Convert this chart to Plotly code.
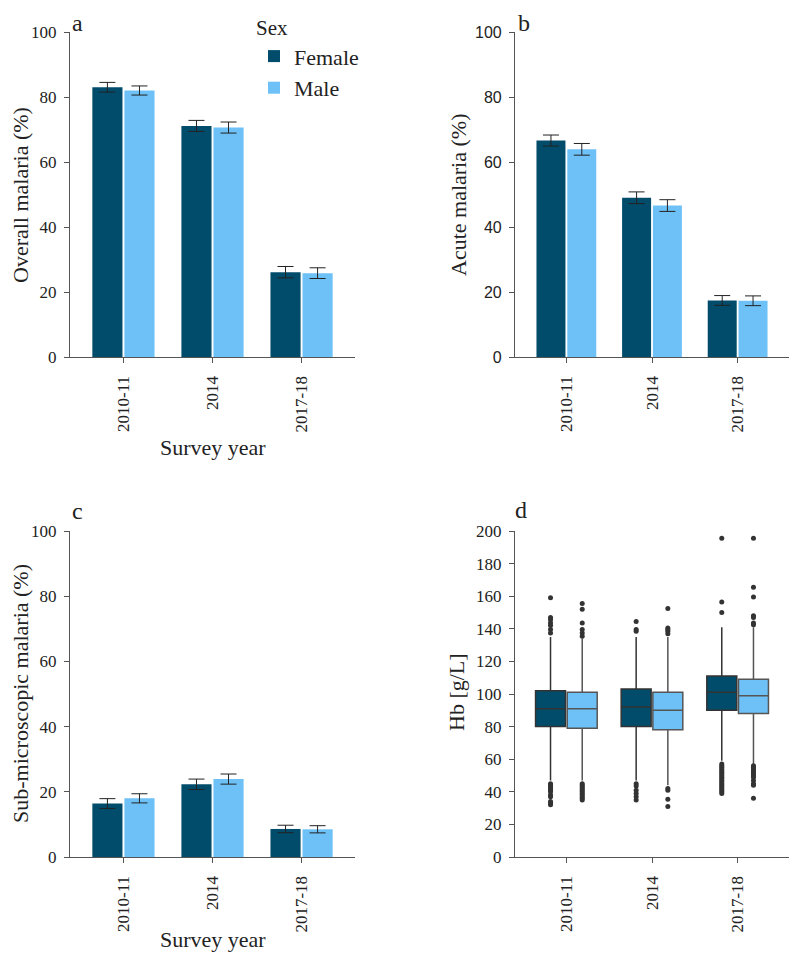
import plotly.graph_objects as go

years = ["2010-11", "2014", "2017-18"]

overall_f = [83.0, 71.1, 26.1]
overall_m = [82.0, 70.6, 25.8]
overall_f_err = [1.5, 1.7, 1.75]
overall_m_err = [1.4, 1.7, 1.65]

acute_f = [66.6, 49.0, 17.4]
acute_m = [63.9, 46.6, 17.3]
acute_f_err = [1.7, 1.8, 1.5]
acute_m_err = [1.8, 1.8, 1.5]

sub_f = [16.4, 22.3, 8.6]
sub_m = [18.0, 23.9, 8.5]
sub_f_err = [1.5, 1.6, 1.15]
sub_m_err = [1.4, 1.55, 1.1]

hb_f_q1 = [80, 80, 90]
hb_f_med = [91, 92, 101]
hb_f_q3 = [102, 103, 111]
hb_f_lo = [47, 47, 59]
hb_f_hi = [135, 135, 141]

hb_m_q1 = [79, 78, 88]
hb_m_med = [91, 90, 99]
hb_m_q3 = [101, 101, 109]
hb_m_lo = [47, 44, 57]
hb_m_hi = [134, 135, 141]

hb_f_out = [
    [159, 147, 145.5, 143.5, 142, 139.5, 137.5, 45, 44, 43, 42, 41, 40, 38, 37, 34, 33, 32],
    [144.5, 139.5, 138.5, 45, 43.5, 41, 39, 37, 35],
    [195.5, 156.5, 150, 57, 56, 55, 54, 53, 52, 51, 50, 49, 48, 47, 46, 45, 44, 43, 42, 41, 40, 39],
]
hb_m_out = [
    [155.5, 152, 143.5, 139.5, 137.5, 135.5, 45, 44, 43, 42, 41, 40, 39, 38, 37, 36, 35],
    [152.5, 140.5, 139.5, 138.5, 137, 42, 41, 35.5, 31],
    [195.5, 165.5, 159.5, 148, 147, 143.5, 142.5, 56, 55, 54, 53, 52, 51, 50, 49, 47, 45, 44, 36],
]

DARK = "#024c6b"
LIGHT = "#6ec1f6"
SERIF = "Liberation Serif"
SANS = "Liberation Sans"
AX = "#555555"

# page is rendered with an 8px body margin; size the figure to fit the window
PAGE_W, PAGE_H = 797, 961
M = 8
W, H = PAGE_W - 2 * M, PAGE_H - 2 * M

def px(x):
    return min(max((x - M) / W, 0.0), 1.0)

def py(y):
    return min(max(1 - (y - M) / H, 0.0), 1.0)

fig = go.Figure()

def bars(xa, ya, f, m, fe, me, legend):
    fig.add_trace(go.Bar(x=years, y=f, name="Female", marker=dict(color=DARK, line=dict(width=0)),
                         error_y=dict(type="data", array=fe, color="#222222", thickness=1, width=8),
                         xaxis=xa, yaxis=ya, showlegend=legend))
    fig.add_trace(go.Bar(x=years, y=m, name="Male", marker=dict(color=LIGHT, line=dict(width=0)),
                         error_y=dict(type="data", array=me, color="#222222", thickness=1, width=8),
                         xaxis=xa, yaxis=ya, showlegend=legend))

bars("x", "y", overall_f, overall_m, overall_f_err, overall_m_err, True)
bars("x2", "y2", acute_f, acute_m, acute_f_err, acute_m_err, False)
bars("x3", "y3", sub_f, sub_m, sub_f_err, sub_m_err, False)

off = 0.185
idx = list(range(len(years)))
for (q1, med, q3, lo, hi, outs, col, lcol, sgn) in [
    (hb_f_q1, hb_f_med, hb_f_q3, hb_f_lo, hb_f_hi, hb_f_out, DARK, "#333333", -1),
    (hb_m_q1, hb_m_med, hb_m_q3, hb_m_lo, hb_m_hi, hb_m_out, LIGHT, "#555555", 1),
]:
    xs = [i + sgn * off for i in idx]
    fig.add_trace(go.Box(x=xs, q1=q1, median=med, q3=q3, lowerfence=lo, upperfence=hi,
                         width=0.35, fillcolor=col, line=dict(color=lcol, width=1.5),
                         whiskerwidth=0, xaxis="x4", yaxis="y4", showlegend=False, boxpoints=False))
    ox, oy = [], []
    for i, pts in zip(idx, outs):
        ox += [i + sgn * off] * len(pts)
        oy += pts
    fig.add_trace(go.Scatter(x=ox, y=oy, mode="markers", marker=dict(color="#333333", size=5),
                             xaxis="x4", yaxis="y4", showlegend=False))

top_dom = [py(357), py(32)]
bot_dom = [py(857), py(531)]
left_dom = [px(70), px(355)]
right_dom = [px(515), px(797)]

def xax(dom, anchor, numeric=False):
    d = dict(domain=dom, anchor=anchor, showline=True, linecolor=AX, linewidth=1.2,
             ticks="outside", ticklen=5, tickcolor=AX, tickangle=-90, showgrid=False,
             zeroline=False, tickfont=dict(family=SERIF, size=17, color="#222"),
             ticklabelstandoff=6, range=[-0.6, 2.6], automargin=False)
    if numeric:
        d.update(type="linear", tickvals=idx, ticktext=years)
    else:
        d.update(type="category", categoryorder="array", categoryarray=years)
    return d

def yax(dom, anchor, rng, dtick, fam):
    return dict(domain=dom, anchor=anchor, range=rng, dtick=dtick, showline=True, linecolor=AX,
                linewidth=1.2, ticks="outside", ticklen=5, tickcolor=AX, showgrid=False,
                zeroline=False, tickfont=dict(family=fam, size=17 if fam == SERIF else 16, color="#222"),
                ticklabelstandoff=4, automargin=False)

fig.update_layout(
    template="none",
    width=W, height=H, margin=dict(l=0, r=0, t=0, b=0, pad=0, autoexpand=False),
    paper_bgcolor="white", plot_bgcolor="white",
    barmode="group", bargap=0.28, bargroupgap=0.06, boxmode="overlay",
    xaxis=xax(left_dom, "y"), yaxis=yax(top_dom, "x", [0, 100], 20, SERIF),
    xaxis2=xax(right_dom, "y2"), yaxis2=yax(top_dom, "x2", [0, 100], 20, SANS),
    xaxis3=xax(left_dom, "y3"), yaxis3=yax(bot_dom, "x3", [0, 100], 20, SERIF),
    xaxis4=xax(right_dom, "y4", numeric=True), yaxis4=yax(bot_dom, "x4", [0, 200], 20, SERIF),
    legend=dict(x=px(254), y=py(3), xanchor="left", yanchor="top",
                font=dict(family=SERIF, size=22, color="#222"),
                title=dict(text="Sex", font=dict(family=SERIF, size=21, color="#222")),
                bgcolor="rgba(0,0,0,0)", tracegroupgap=0),
    font=dict(family=SERIF, color="#222"),
)

def ann(text, x, y, size, angle=0, yanchor="middle"):
    fig.add_annotation(text=text, x=px(x), y=py(y), xref="paper", yref="paper",
                       showarrow=False, textangle=angle, xanchor="center", yanchor=yanchor,
                       font=dict(family=SERIF, size=size, color="#222"))

ann("a", 77, 8, 24, yanchor="top")
ann("b", 524, 8, 24, yanchor="top")
ann("c", 77, 511, 24)
ann("d", 521, 510, 24)
ann("Overall malaria (%)", 20, 195, 22, -90)
ann("Acute malaria (%)", 458, 195, 22, -90)
ann("Sub-microscopic malaria (%)", 20, 694, 22, -90)
ann("Hb [g/L]", 456, 692, 22, -90)
ann("Survey year", 213, 447, 22)
ann("Survey year", 213, 939, 22)

fig.write_html("out.html")
